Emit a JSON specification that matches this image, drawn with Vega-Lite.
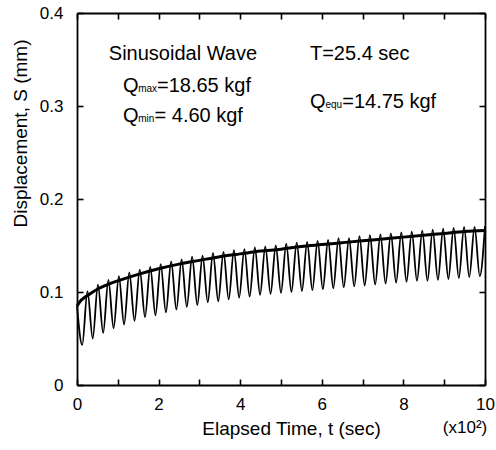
{
  "$schema": "https://vega.github.io/schema/vega-lite/v6.json",
  "width": 408,
  "height": 372,
  "autosize": {"type": "none"},
  "padding": {"left": 77, "top": 13, "right": 11, "bottom": 65},
  "background": "white",
  "config": {
    "view": {"stroke": null},
    "axis": {
      "domainColor": "black", "domainWidth": 1.8,
      "tickColor": "black", "tickWidth": 1.6, "tickSize": -6,
      "grid": false, "labelColor": "black", "titleColor": "black",
      "labelFont": "Liberation Sans", "titleFont": "Liberation Sans",
      "labelFontSize": 17, "titleFontSize": 19, "titleFontWeight": "normal",
      "labelFlush": false, "labelOverlap": false
    },
    "text": {"font": "Liberation Sans", "color": "black"}
  },
  "datasets": {
    "wave": [
      {"t": 0, "s": 0.085},
      {"t": 0.128, "s": 0.043}, {"t": 0.256, "s": 0.101},
      {"t": 0.385, "s": 0.050}, {"t": 0.513, "s": 0.108},
      {"t": 0.641, "s": 0.056}, {"t": 0.769, "s": 0.113},
      {"t": 0.897, "s": 0.061}, {"t": 1.026, "s": 0.117},
      {"t": 1.154, "s": 0.065}, {"t": 1.282, "s": 0.121},
      {"t": 1.410, "s": 0.069}, {"t": 1.538, "s": 0.124},
      {"t": 1.667, "s": 0.073}, {"t": 1.795, "s": 0.127},
      {"t": 1.923, "s": 0.075}, {"t": 2.051, "s": 0.130},
      {"t": 2.179, "s": 0.078}, {"t": 2.308, "s": 0.133},
      {"t": 2.436, "s": 0.081}, {"t": 2.564, "s": 0.135},
      {"t": 2.692, "s": 0.084}, {"t": 2.821, "s": 0.138},
      {"t": 2.949, "s": 0.086}, {"t": 3.077, "s": 0.139},
      {"t": 3.205, "s": 0.089}, {"t": 3.333, "s": 0.142},
      {"t": 3.462, "s": 0.090}, {"t": 3.590, "s": 0.143},
      {"t": 3.718, "s": 0.092}, {"t": 3.846, "s": 0.145},
      {"t": 3.974, "s": 0.094}, {"t": 4.103, "s": 0.146},
      {"t": 4.231, "s": 0.095}, {"t": 4.359, "s": 0.148},
      {"t": 4.487, "s": 0.097}, {"t": 4.615, "s": 0.149},
      {"t": 4.744, "s": 0.098}, {"t": 4.872, "s": 0.150},
      {"t": 5.000, "s": 0.099}, {"t": 5.128, "s": 0.152},
      {"t": 5.256, "s": 0.100}, {"t": 5.385, "s": 0.153},
      {"t": 5.513, "s": 0.101}, {"t": 5.641, "s": 0.154},
      {"t": 5.769, "s": 0.102}, {"t": 5.897, "s": 0.155},
      {"t": 6.026, "s": 0.103}, {"t": 6.154, "s": 0.156},
      {"t": 6.282, "s": 0.104}, {"t": 6.410, "s": 0.158},
      {"t": 6.538, "s": 0.105}, {"t": 6.667, "s": 0.158},
      {"t": 6.795, "s": 0.106}, {"t": 6.923, "s": 0.160},
      {"t": 7.051, "s": 0.107}, {"t": 7.179, "s": 0.161},
      {"t": 7.308, "s": 0.108}, {"t": 7.436, "s": 0.162},
      {"t": 7.564, "s": 0.109}, {"t": 7.692, "s": 0.163},
      {"t": 7.821, "s": 0.110}, {"t": 7.949, "s": 0.164},
      {"t": 8.077, "s": 0.111}, {"t": 8.205, "s": 0.165},
      {"t": 8.333, "s": 0.112}, {"t": 8.462, "s": 0.166},
      {"t": 8.590, "s": 0.112}, {"t": 8.718, "s": 0.167},
      {"t": 8.846, "s": 0.113}, {"t": 8.974, "s": 0.168},
      {"t": 9.103, "s": 0.114}, {"t": 9.231, "s": 0.169},
      {"t": 9.359, "s": 0.115}, {"t": 9.487, "s": 0.170},
      {"t": 9.615, "s": 0.116}, {"t": 9.744, "s": 0.170},
      {"t": 9.872, "s": 0.117}, {"t": 10.0, "s": 0.171}
    ],
    "mean": [
      {"t": 0, "s": 0.085}, {"t": 0.1, "s": 0.091}, {"t": 0.25, "s": 0.096},
      {"t": 0.5, "s": 0.103}, {"t": 0.75, "s": 0.108}, {"t": 1, "s": 0.112},
      {"t": 1.5, "s": 0.119}, {"t": 2, "s": 0.125}, {"t": 2.5, "s": 0.130},
      {"t": 3, "s": 0.134}, {"t": 3.5, "s": 0.138}, {"t": 4, "s": 0.141},
      {"t": 4.5, "s": 0.144}, {"t": 5, "s": 0.146}, {"t": 5.5, "s": 0.149},
      {"t": 6, "s": 0.151}, {"t": 6.5, "s": 0.153}, {"t": 7, "s": 0.155},
      {"t": 7.5, "s": 0.157}, {"t": 8, "s": 0.159}, {"t": 8.5, "s": 0.161},
      {"t": 9, "s": 0.163}, {"t": 9.5, "s": 0.165}, {"t": 10, "s": 0.166}
    ],
    "bigText": [
      {"t": 0.78, "s": 0.349, "label": "Sinusoidal Wave"},
      {"t": 5.71, "s": 0.349, "label": "T=25.4 sec"},
      {"t": 1.13, "s": 0.315, "label": "Q"},
      {"t": 1.96, "s": 0.315, "label": "=18.65 kgf"},
      {"t": 1.13, "s": 0.283, "label": "Q"},
      {"t": 1.90, "s": 0.283, "label": "= 4.60 kgf"},
      {"t": 5.71, "s": 0.298, "label": "Q"},
      {"t": 6.50, "s": 0.298, "label": "=14.75 kgf"}
    ],
    "subText": [
      {"t": 1.50, "s": 0.315, "label": "max"},
      {"t": 1.50, "s": 0.283, "label": "min"},
      {"t": 6.09, "s": 0.298, "label": "equ"}
    ],
    "unitText": [
      {"t": 9.51, "s": -0.046, "label": "(x10²)"}
    ]
  },
  "layer": [
    {
      "data": {"name": "wave"},
      "mark": {"type": "line", "color": "black", "strokeWidth": 1.8, "interpolate": "monotone"},
      "encoding": {
        "x": {
          "field": "t", "type": "quantitative",
          "scale": {"domain": [0, 10], "nice": false, "zero": false},
          "axis": {
            "orient": "bottom", "values": [0, 1, 2, 3, 4, 5, 6, 7, 8, 9, 10],
            "labelExpr": "datum.value % 2 === 0 ? datum.label : ''",
            "labelPadding": 17,
            "title": "Elapsed Time, t (sec)",
            "titleX": 214, "titleY": 49, "titleAlign": "center", "titleBaseline": "alphabetic"
          }
        },
        "y": {
          "field": "s", "type": "quantitative",
          "scale": {"domain": [0, 0.4], "nice": false, "zero": false},
          "axis": {
            "orient": "left", "values": [0, 0.1, 0.2, 0.3, 0.4],
            "format": "~g",
            "labelPadding": 20,
            "title": "Displacement, S (mm)",
            "titleX": -57, "titleY": 120, "titleAngle": 270, "titleAlign": "center", "titleBaseline": "middle"
          }
        }
      }
    },
    {
      "data": {"name": "mean"},
      "mark": {"type": "line", "color": "black", "strokeWidth": 3, "interpolate": "monotone"},
      "encoding": {
        "x": {
          "field": "t", "type": "quantitative",
          "axis": {"orient": "top", "values": [0, 1, 2, 3, 4, 5, 6, 7, 8, 9, 10], "labels": false, "title": null}
        },
        "y": {
          "field": "s", "type": "quantitative",
          "axis": {"orient": "right", "values": [0, 0.1, 0.2, 0.3, 0.4], "labels": false, "title": null}
        }
      }
    },
    {
      "data": {"name": "bigText"},
      "mark": {"type": "text", "fontSize": 20, "align": "left", "baseline": "alphabetic"},
      "encoding": {
        "x": {"field": "t", "type": "quantitative", "axis": null},
        "y": {"field": "s", "type": "quantitative", "axis": null},
        "text": {"field": "label"}
      }
    },
    {
      "data": {"name": "subText"},
      "mark": {"type": "text", "fontSize": 10, "align": "left", "baseline": "alphabetic"},
      "encoding": {
        "x": {"field": "t", "type": "quantitative", "axis": null},
        "y": {"field": "s", "type": "quantitative", "axis": null},
        "text": {"field": "label"}
      }
    },
    {
      "data": {"name": "unitText"},
      "mark": {"type": "text", "fontSize": 17, "align": "center", "baseline": "middle"},
      "encoding": {
        "x": {"field": "t", "type": "quantitative", "axis": null},
        "y": {"field": "s", "type": "quantitative", "axis": null},
        "text": {"field": "label"}
      }
    }
  ],
  "resolve": {"axis": {"x": "independent", "y": "independent"}}
}
